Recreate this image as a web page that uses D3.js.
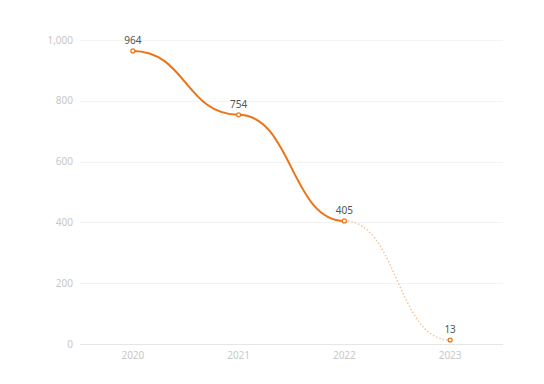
<!DOCTYPE html>
<html>
<head>
<meta charset="utf-8">
<script src="https://cdn.jsdelivr.net/npm/d3@7"></script>
<style>
  body { margin: 0; background: #fff; }
  text { font-family: "Noto Sans", sans-serif; }
</style>
</head>
<body>
<div id="chart"></div>
<script>
let years = ["2020", "2021", "2022", "2023"];
let values = [964, 754, 405, 13];
let solidUntil = 2; // index of last point on the solid segment
let yTicks = [0, 200, 400, 600, 800, 1000];

let margin = {top: 40, right: 41, bottom: 40, left: 80},
    width = 544,
    height = 384;

let svg = d3.select("#chart").append("svg")
    .attr("width", width)
    .attr("height", height);

let x = d3.scaleBand()
    .domain(years)
    .range([margin.left, width - margin.right]);

let y = d3.scaleLinear()
    .domain([0, 1000])
    .range([height - margin.bottom, margin.top]);

// gridlines
svg.selectAll(".grid")
    .data(yTicks)
    .enter().append("line")
    .attr("class", "grid")
    .attr("x1", margin.left)
    .attr("x2", width - margin.right)
    .attr("y1", d => Math.round(y(d)) + 0.5)
    .attr("y2", d => Math.round(y(d)) + 0.5)
    .attr("stroke", d => d === 0 ? "#e6e6e6" : "#f3f3f3")
    .attr("stroke-width", 1);

// y labels
svg.selectAll(".ylab")
    .data(yTicks)
    .enter().append("text")
    .attr("class", "ylab")
    .attr("x", margin.left - 7)
    .attr("y", d => y(d))
    .attr("dy", "0.35em")
    .attr("text-anchor", "end")
    .attr("font-size", 10)
    .attr("fill", "#c8c8c8")
    .text(d => d3.format(",")(d));

// x labels
svg.selectAll(".xlab")
    .data(years)
    .enter().append("text")
    .attr("class", "xlab")
    .attr("x", d => x(d) + x.bandwidth() / 2)
    .attr("y", height - margin.bottom + 15)
    .attr("text-anchor", "middle")
    .attr("font-size", 10)
    .attr("fill", "#c8c8c8")
    .text(d => d);

let points = years.map((yr, i) => ({year: yr, value: values[i], i: i}));

let line = d3.line()
    .x(d => x(d.year) + x.bandwidth() / 2)
    .y(d => y(d.value))
    .curve(d3.curveBumpX);

svg.append("path")
    .datum(points.slice(solidUntil))
    .attr("fill", "none")
    .attr("stroke", "#f6c49c")
    .attr("stroke-width", 1.5)
    .attr("stroke-dasharray", "1.5,2")
    .attr("d", line);

svg.append("path")
    .datum(points.slice(0, solidUntil + 1))
    .attr("fill", "none")
    .attr("stroke", "#ee7314")
    .attr("stroke-width", 2)
    .attr("d", line);

svg.selectAll(".dot")
    .data(points)
    .enter().append("circle")
    .attr("class", "dot")
    .attr("cx", d => x(d.year) + x.bandwidth() / 2)
    .attr("cy", d => y(d.value))
    .attr("r", 2)
    .attr("fill", "#fff")
    .attr("stroke", "#ee7314")
    .attr("stroke-width", 1.2);

svg.selectAll(".vlab")
    .data(points)
    .enter().append("text")
    .attr("class", "vlab")
    .attr("x", d => x(d.year) + x.bandwidth() / 2)
    .attr("y", d => y(d.value) - 7)
    .attr("text-anchor", "middle")
    .attr("font-size", 10)
    .attr("fill", "#555")
    .text(d => d.value);
</script>
</body>
</html>
